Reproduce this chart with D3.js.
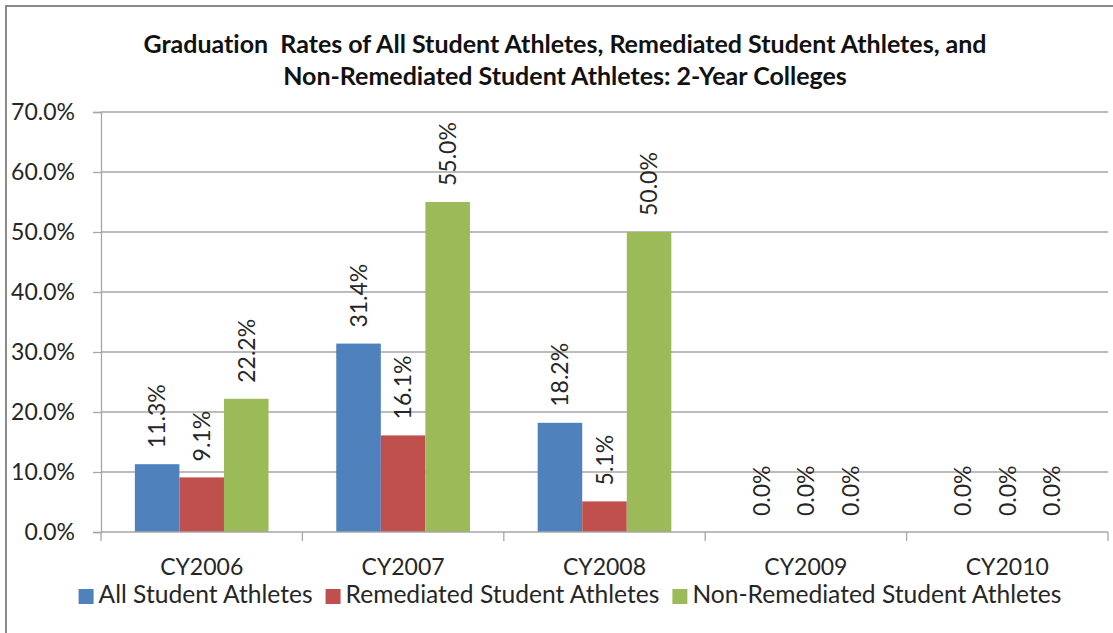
<!DOCTYPE html>
<html>
  <head>
    <meta charset="utf-8">
    <title>Graduation Rates: 2-Year Colleges</title>
    <style>
      body { margin: 0; background: #fff; }
      svg { display: block; font-family: Lato, "Noto Sans", sans-serif; font-variant-ligatures: none; }
    </style>
  </head>
  <body>
    <svg id="chart" width="1113" height="633"></svg>
  </body>
  <script src="https://cdn.jsdelivr.net/npm/d3@7"></script>
  <script type="text/javascript">
  // chart values
  const categories = ['CY2006', 'CY2007', 'CY2008', 'CY2009', 'CY2010'];
  const seriesNames = ['All Student Athletes', 'Remediated Student Athletes', 'Non-Remediated Student Athletes'];
  const allAthletes = [0.113, 0.314, 0.182, 0.0, 0.0];
  const remediated = [0.091, 0.161, 0.051, 0.0, 0.0];
  const nonRemediated = [0.222, 0.550, 0.500, 0.0, 0.0];
  const yTicks = [0, 0.1, 0.2, 0.3, 0.4, 0.5, 0.6, 0.7];
  const titleLines = [
    'Graduation\u00a0 Rates of All Student Athletes, Remediated Student Athletes, and',
    'Non-Remediated Student Athletes: 2-Year Colleges'
  ];
  const colors = ['#4f81bd', '#c0504d', '#9bbb59'];

  const seriesValues = [allAthletes, remediated, nonRemediated];
  const rows = [];
  categories.forEach(function(c, i) {
    seriesNames.forEach(function(s, j) {
      rows.push({ cat: c, series: s, value: seriesValues[j][i], color: colors[j] });
    });
  });

  const svg = d3.select('#chart');
  const fmt = d3.format('.1%');

  // outer frame (right and bottom edges fall outside the picture)
  svg.append('rect')
    .attr('x', 6).attr('y', 6)
    .attr('width', 1130).attr('height', 650)
    .attr('fill', 'none')
    .attr('stroke', '#8a8a8a')
    .attr('stroke-width', 2);

  const plot = { left: 101, right: 1108, top: 112, bottom: 532 };

  const x = d3.scaleBand().domain(categories).range([plot.left, plot.right]);
  const xInner = d3.scaleBand().domain(seriesNames).range([0, x.bandwidth()]).paddingOuter(0.76);
  const y = d3.scaleLinear().domain([0, 0.7]).range([plot.bottom, plot.top]);

  // gridlines
  svg.append('g').selectAll('line').data(yTicks.slice(1)).enter().append('line')
    .attr('x1', plot.left).attr('x2', plot.right)
    .attr('y1', function(d) { return y(d); })
    .attr('y2', function(d) { return y(d); })
    .attr('stroke', '#a6a6a6').attr('stroke-width', 1.3);

  // y axis
  const yAxis = svg.append('g')
    .attr('transform', 'translate(' + plot.left + ',0)')
    .call(d3.axisLeft(y).tickValues(yTicks).tickFormat(fmt).tickSize(8).tickPadding(18));
  yAxis.select('.domain').attr('stroke', '#a6a6a6').attr('stroke-width', 1.3);
  yAxis.selectAll('.tick line').attr('stroke', '#a6a6a6').attr('stroke-width', 1.3);
  yAxis.selectAll('.tick text')
    .attr('fill', '#262626')
    .style('font-size', '23px')
    .style('font-family', 'Lato, sans-serif');

  // bars
  svg.append('g').selectAll('rect').data(rows).enter().append('rect')
    .attr('x', function(d) { return x(d.cat) + xInner(d.series); })
    .attr('width', xInner.bandwidth())
    .attr('y', function(d) { return y(d.value); })
    .attr('height', function(d) { return y(0) - y(d.value); })
    .attr('fill', function(d) { return d.color; });

  // x axis
  const xAxis = svg.append('g')
    .attr('transform', 'translate(0,' + plot.bottom + ')');
  xAxis.append('line')
    .attr('x1', plot.left).attr('x2', plot.right)
    .attr('stroke', '#a6a6a6').attr('stroke-width', 1.3);
  xAxis.selectAll('line.tk').data(categories.concat(['end'])).enter().append('line')
    .attr('class', 'tk')
    .attr('x1', function(d, i) { return i < categories.length ? x(d) : plot.right; })
    .attr('x2', function(d, i) { return i < categories.length ? x(d) : plot.right; })
    .attr('y1', 0).attr('y2', 9)
    .attr('stroke', '#a6a6a6').attr('stroke-width', 1.3);
  xAxis.selectAll('text').data(categories).enter().append('text')
    .attr('x', function(d) { return x(d) + x.bandwidth() / 2; })
    .attr('y', 43)
    .attr('text-anchor', 'middle')
    .attr('fill', '#262626')
    .style('font-size', '23px')
    .text(function(d) { return d; });

  // data labels, rotated
  svg.append('g').selectAll('text').data(rows).enter().append('text')
    .attr('transform', function(d) {
      const cx = x(d.cat) + xInner(d.series) + xInner.bandwidth() / 2;
      return 'translate(' + cx + ',' + (y(d.value) - 16) + ') rotate(-90)';
    })
    .attr('dy', '0.36em')
    .attr('fill', '#262626')
    .style('font-size', '23px')
    .text(function(d) { return fmt(d.value); });

  // title
  svg.append('g').selectAll('text').data(titleLines).enter().append('text')
    .attr('x', 565)
    .attr('y', function(d, i) { return 53 + i * 32; })
    .attr('text-anchor', 'middle')
    .attr('fill', '#111')
    .style('font-size', '25px')
    .style('font-weight', 'bold')
    .text(function(d) { return d; });

  // legend
  const legend = svg.append('g');
  let lx = 0;
  const items = legend.selectAll('g').data(seriesNames).enter().append('g');
  items.append('rect')
    .attr('width', 15).attr('height', 15)
    .attr('y', -14)
    .attr('fill', function(d, i) { return colors[i]; });
  items.append('text')
    .attr('x', 20)
    .attr('fill', '#262626')
    .style('font-size', '24.6px')
    .text(function(d) { return d; });
  items.each(function() {
    const g = d3.select(this);
    g.attr('transform', 'translate(' + lx + ',0)');
    lx += 20 + g.select('text').node().getComputedTextLength() + 13;
  });
  legend.attr('transform', 'translate(' + (570 - (lx - 13) / 2) + ',603)');
  </script>
</html>
